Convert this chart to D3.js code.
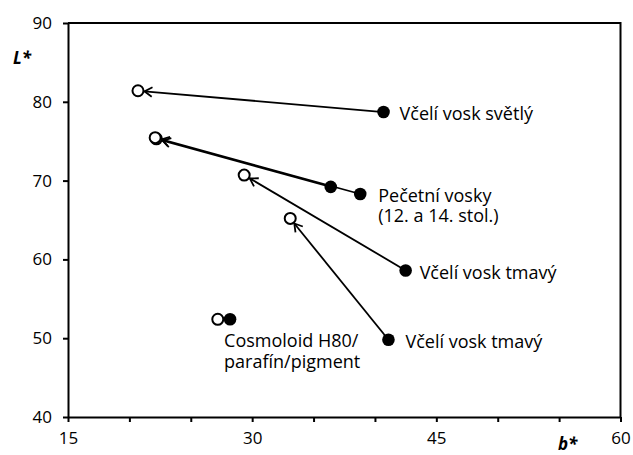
<!DOCTYPE html>
<html>
<head>
<meta charset="utf-8">
<script src="https://cdn.jsdelivr.net/npm/d3@7"></script>
<style>
  html, body { margin: 0; padding: 0; background: #fff; }
  svg { display: block; font-family: "Open Sans", "Noto Sans", sans-serif; }
</style>
</head>
<body>
<svg id="chart" width="633" height="455"></svg>
<script>
// CIELAB measurements: b* (yellowness) vs L* (lightness), before (filled) and after (open)
const groups = ["Včelí vosk světlý", "Pečetní vosky A", "Pečetní vosky B", "Včelí vosk tmavý 1", "Včelí vosk tmavý 2", "Cosmoloid"];
const beforeB = [40.7, 36.4, 38.8, 42.5, 41.1, 28.2];
const beforeL = [78.7, 69.2, 68.3, 58.6, 49.8, 52.4];
const afterB  = [20.7, 22.2, 22.1, 29.35, 33.1, 27.2];
const afterL  = [81.4, 75.3, 75.45, 70.7, 65.2, 52.4];

const xTicks = [15, 20, 25, 30, 35, 40, 45, 50, 55, 60];
const xLabels = [15, 30, 45, 60];
const yTicks = [40, 50, 60, 70, 80, 90];

// label text lines, each tied to a measured point
const labelLines = [
  ["Včelí vosk světlý"],
  ["Pečetní vosky", "(12. a 14. stol.)"],
  ["Včelí vosk tmavý"],
  ["Včelí vosk tmavý"],
  ["Cosmoloid H80/", "parafín/pigment"]
];
const labelPoint = [0, 2, 3, 4, 5];

const svg = d3.select("#chart");
const margin = { left: 68, right: 12.5, top: 23, bottom: 38 };
const W = 633, H = 455;

const x = d3.scaleLinear().domain([15, 60]).range([margin.left, W - margin.right]);
const y = d3.scaleLinear().domain([40, 90]).range([H - margin.bottom, margin.top]);

// frame (top and right edges)
svg.append("path")
  .attr("d", `M${x(15)},${y(90)}H${x(60)}V${y(40)}`)
  .attr("fill", "none").attr("stroke", "#000").attr("stroke-width", 2);

const xAxis = d3.axisBottom(x)
  .tickValues(xTicks)
  .tickFormat(d => xLabels.includes(d) ? d : "")
  .tickSizeInner(5).tickSizeOuter(0).tickPadding(10);
const gx = svg.append("g").attr("transform", `translate(0,${y(40)})`).call(xAxis);

const yAxis = d3.axisLeft(y)
  .tickValues(yTicks)
  .tickSizeInner(5).tickSizeOuter(0).tickPadding(11);
const gy = svg.append("g").attr("transform", `translate(${x(15)},0)`).call(yAxis);

[gx, gy].forEach(g => {
  g.select(".domain").attr("stroke-width", 2);
  g.selectAll(".tick line").attr("stroke-width", 2);
  g.selectAll("text").attr("font-size", 17).attr("fill", "#000")
    .attr("font-family", "'Open Sans', sans-serif");
});

// axis titles
svg.append("text").attr("x", 13).attr("y", 64)
  .attr("font-size", 17).attr("font-weight", "bold").attr("font-style", "italic")
  .text("L*");
svg.append("text").attr("x", 558).attr("y", 450)
  .attr("font-size", 17).attr("font-weight", "bold").attr("font-style", "italic")
  .text("b*");

const rOpen = 5.5, rFill = 6.3, head = 9, spread = 0.55;

// arrows from filled to open points
groups.forEach((g, i) => {
  const x0 = x(beforeB[i]), y0 = y(beforeL[i]);
  const x1 = x(afterB[i]), y1 = y(afterL[i]);
  const dx = x1 - x0, dy = y1 - y0, len = Math.hypot(dx, dy);
  if (len < rOpen + rFill + head) return;
  const ux = dx / len, uy = dy / len;
  const tx = x1 - ux * (rOpen + 1), ty = y1 - uy * (rOpen + 1);
  svg.append("line")
    .attr("x1", x0).attr("y1", y0).attr("x2", tx).attr("y2", ty)
    .attr("stroke", "#000").attr("stroke-width", 1.8);
  const ang = Math.atan2(uy, ux);
  const p1 = [tx - head * Math.cos(ang - spread), ty - head * Math.sin(ang - spread)];
  const p2 = [tx - head * Math.cos(ang + spread), ty - head * Math.sin(ang + spread)];
  svg.append("path")
    .attr("d", `M${p1[0]},${p1[1]}L${tx},${ty}L${p2[0]},${p2[1]}`)
    .attr("fill", "none").attr("stroke", "#000").attr("stroke-width", 1.8)
    .attr("stroke-linejoin", "miter");
});

// open circles (after)
svg.selectAll("circle.after").data(groups).enter().append("circle")
  .attr("class", "after")
  .attr("cx", (d, i) => x(afterB[i])).attr("cy", (d, i) => y(afterL[i]))
  .attr("r", rOpen).attr("fill", "#fff").attr("stroke", "#000").attr("stroke-width", 2);

// filled circles (before)
svg.selectAll("circle.before").data(groups).enter().append("circle")
  .attr("class", "before")
  .attr("cx", (d, i) => x(beforeB[i])).attr("cy", (d, i) => y(beforeL[i]))
  .attr("r", rFill).attr("fill", "#000");

// labels beside their points, one text element per line
const labelOffset = [[16, 8], [18, 8], [14, 8.5], [17, 8], [-6, 28]];
const lineStep = 20.5;
labelLines.forEach((lines, k) => {
  const i = labelPoint[k];
  lines.forEach((s, j) => {
    svg.append("text")
      .attr("x", x(beforeB[i]) + labelOffset[k][0])
      .attr("y", y(beforeL[i]) + labelOffset[k][1] + j * lineStep)
      .attr("font-size", 18).attr("fill", "#000")
      .text(s);
  });
});
</script>
</body>
</html>
